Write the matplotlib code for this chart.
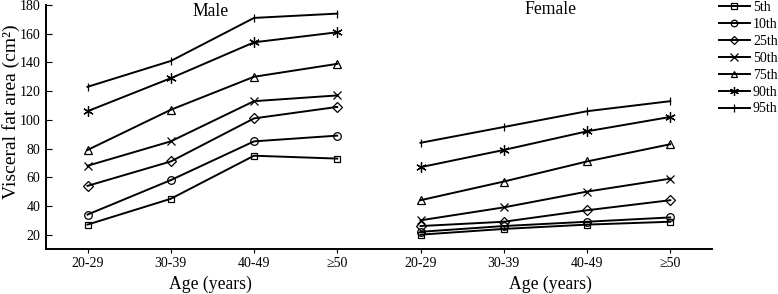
import numpy as np
import matplotlib.pyplot as plt
from matplotlib import transforms

plt.rcParams['font.family'] = ['Liberation Serif', 'DejaVu Serif']

age_groups = ["20-29", "30-39", "40-49", "≥50"]
percentiles = ["5th", "10th", "25th", "50th", "75th", "90th", "95th"]

male = {
    "5th": [27, 45, 75, 73],
    "10th": [34, 58, 85, 89],
    "25th": [54, 71, 101, 109],
    "50th": [68, 85, 113, 117],
    "75th": [79, 107, 130, 139],
    "90th": [106, 129, 154, 161],
    "95th": [123, 141, 171, 174],
}
female = {
    "5th": [20, 24, 27, 29],
    "10th": [22, 26, 29, 32],
    "25th": [26, 29, 37, 44],
    "50th": [30, 39, 50, 59],
    "75th": [44, 57, 71, 83],
    "90th": [67, 79, 92, 102],
    "95th": [84, 95, 106, 113],
}

markers = {"5th": "s", "10th": "o", "25th": "D", "50th": "x",
           "75th": "^", "90th": (6, 2, 0), "95th": "|"}
msizes = {"5th": 4.8, "10th": 5.5, "25th": 5, "50th": 6,
          "75th": 5.5, "90th": 7.5, "95th": 6}

fig = plt.figure(figsize=(7.78, 2.94), dpi=100)
ax = fig.add_axes([0.059, 0.153, 0.856, 0.830])

x_male = np.arange(4)
x_female = np.arange(4) + 4

for p in percentiles:
    kw = dict(color="black", lw=1.4, marker=markers[p], ms=msizes[p],
              mfc="none", mec="black", mew=0.9)
    ax.plot(x_male, male[p], label=p, **kw)
    ax.plot(x_female, female[p], **kw)

ax.set_xlim(-0.5, 7.5)
ax.set_ylim(10, 180)
ax.set_xticks(np.arange(8))
ax.set_xticklabels(age_groups + age_groups)
ax.set_yticks(np.arange(20, 181, 20))
ax.tick_params(axis="y", direction="in", labelsize=10, length=4, pad=4)
ax.tick_params(axis="x", direction="out", labelsize=10, length=3, pad=3)
for s in ["top", "right"]:
    ax.spines[s].set_visible(False)
for s in ["left", "bottom"]:
    ax.spines[s].set_linewidth(1.4)

fig.text(11 / 778, 1 - 112 / 294, "Visceral fat area (cm²)", rotation=90,
         ha="center", va="center", fontsize=14)

trans = transforms.blended_transform_factory(ax.transData, ax.transAxes)
ax.text(1.48, 0.975, "Male", transform=trans, ha="center", va="center", fontsize=12.7)
ax.text(5.56, 0.98, "Female", transform=trans, ha="center", va="center", fontsize=12.7)
ax.text(1.48, -0.143, "Age (years)", transform=trans, ha="center", va="center", fontsize=12.7)
ax.text(5.56, -0.143, "Age (years)", transform=trans, ha="center", va="center", fontsize=12.7)

leg = ax.legend(loc="upper left", bbox_to_anchor=(1.0105, 1.016), frameon=False,
                fontsize=10, handlelength=2.25, handletextpad=0.2,
                labelspacing=0.28, borderaxespad=0, borderpad=0, markerscale=0.85)

fig.savefig("out.png", dpi=100)
